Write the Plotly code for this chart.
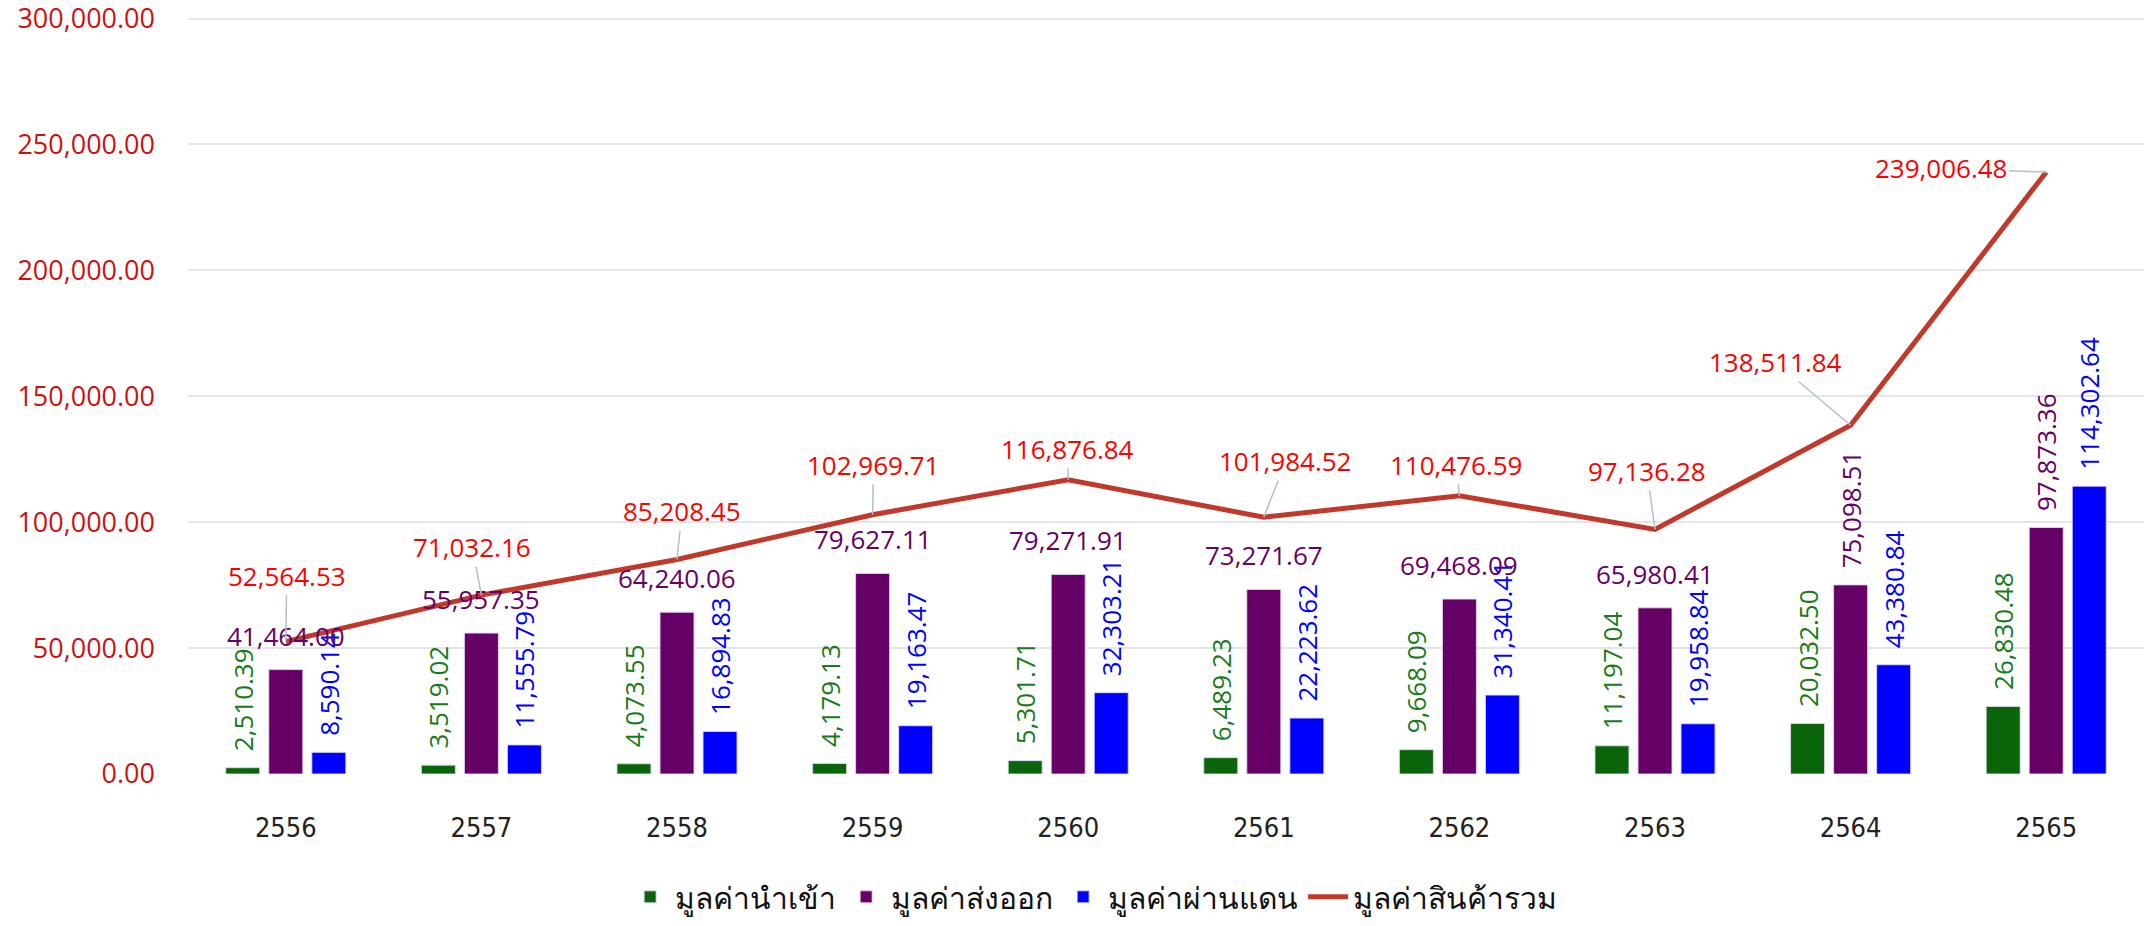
import plotly.graph_objects as go

# ---------------- data ----------------
years = ["2556", "2557", "2558", "2559", "2560", "2561", "2562", "2563", "2564", "2565"]
import_values = [2510.39, 3519.02, 4073.55, 4179.13, 5301.71, 6489.23, 9668.09, 11197.04, 20032.50, 26830.48]
export_values = [41464.00, 55957.35, 64240.06, 79627.11, 79271.91, 73271.67, 69468.09, 65980.41, 75098.51, 97873.36]
transit_values = [8590.14, 11555.79, 16894.83, 19163.47, 32303.21, 22223.62, 31340.41, 19958.84, 43380.84, 114302.64]
total_values = [52564.53, 71032.16, 85208.45, 102969.71, 116876.84, 101984.52, 110476.59, 97136.28, 138511.84, 239006.48]

series_names = ["มูลค่านำเข้า", "มูลค่าส่งออก", "มูลค่าผ่านแดน", "มูลค่าสินค้ารวม"]
y_tick_values = [0, 50000, 100000, 150000, 200000, 250000, 300000]

# ---------------- styles ----------------
C_IMPORT = "#0a650a"
C_EXPORT = "#660066"
C_TRANSIT = "#0000ff"
C_TOTAL = "#c0392b"
T_IMPORT = "#1b7a1b"
T_EXPORT = "#660066"
T_TRANSIT = "#0000ff"
T_TOTAL = "#ff0000"
LABEL_FONT = "Open Sans, Noto Sans, sans-serif"
NARROW_FONT = "Liberation Sans Narrow, Arial Narrow, DejaVu Sans Condensed, sans-serif"
LABEL_SIZE = 26
PAD = "\u00a0\u00a0"

# export labels: horizontal for most years, rotated for the last two
export_rotated = [False] * 8 + [True] * 2
# pixel offsets of the total labels from their points (ax, ay)
total_label_offsets = [(1, -66), (-9, -48), (5, -48), (1, -50), (-1, -31),
                       (22, -56), (-3, -31), (-8, -58), (-75, -63), (-105, -4)]


def fmt(v):
    return f"{v:,.2f}"


fig = go.Figure()

bar_line = dict(color="rgba(220,215,235,0.9)", width=1)

fig.add_trace(go.Bar(
    x=years, y=import_values, name=series_names[0],
    marker=dict(color=C_IMPORT, line=bar_line),
    text=[PAD + fmt(v) for v in import_values],
    textposition="outside", textangle=-90, constraintext="none", cliponaxis=False,
    textfont=dict(family=LABEL_FONT, size=LABEL_SIZE, color=T_IMPORT),
))
fig.add_trace(go.Bar(
    x=years, y=export_values, name=series_names[1],
    marker=dict(color=C_EXPORT, line=bar_line),
    text=[PAD + fmt(v) if r else "" for v, r in zip(export_values, export_rotated)],
    textposition="outside", textangle=-90, constraintext="none", cliponaxis=False,
    textfont=dict(family=LABEL_FONT, size=LABEL_SIZE, color=T_EXPORT),
))
fig.add_trace(go.Bar(
    x=years, y=transit_values, name=series_names[2],
    marker=dict(color=C_TRANSIT, line=bar_line),
    text=[PAD + fmt(v) for v in transit_values],
    textposition="outside", textangle=-90, constraintext="none", cliponaxis=False,
    textfont=dict(family=LABEL_FONT, size=LABEL_SIZE, color=T_TRANSIT),
))
fig.add_trace(go.Scatter(
    x=years, y=total_values, name=series_names[3], mode="lines",
    line=dict(color=C_TOTAL, width=5), cliponaxis=False,
))

annotations = []
# category axis: annotations are placed by category index
for i, (v, r) in enumerate(zip(export_values, export_rotated)):
    if not r:
        annotations.append(dict(
            x=i, y=v, xref="x", yref="y", text=fmt(v), showarrow=False,
            yanchor="bottom", yshift=14,
            font=dict(family=LABEL_FONT, size=LABEL_SIZE, color=T_EXPORT),
        ))
for i, (v, (ax, ay)) in enumerate(zip(total_values, total_label_offsets)):
    annotations.append(dict(
        x=i, y=v, xref="x", yref="y", text=fmt(v), showarrow=True,
        ax=ax, ay=ay, arrowhead=0, arrowwidth=1.5, arrowcolor="#b3bfcc", standoff=0,
        font=dict(family=LABEL_FONT, size=LABEL_SIZE, color=T_TOTAL),
    ))

fig.update_layout(
    width=2144, height=926,
    margin=dict(l=188, r=0, t=11, b=152, autoexpand=False),
    paper_bgcolor="white", plot_bgcolor="white",
    barmode="group", bargap=0.34, bargroupgap=0.21,
    annotations=annotations,
    showlegend=True,
    legend=dict(
        orientation="h", x=0.463, xanchor="center", y=-0.161, yanchor="middle",
        font=dict(family=NARROW_FONT, size=30, color="#111111"),
        itemwidth=40, traceorder="normal",
    ),
    xaxis=dict(
        type="category", categoryorder="array", categoryarray=years,
        range=[-0.5, len(years) - 0.5],
        showgrid=False, showline=False, zeroline=False,
        tickfont=dict(family=NARROW_FONT, size=27, color="#222222"),
        ticklabelstandoff=35,
    ),
    yaxis=dict(
        range=[0, 303000], tickvals=y_tick_values, tickformat=",.2f",
        showgrid=True, gridcolor="#e2e5ea", gridwidth=1.5,
        zeroline=False, showline=False, ticklabeloverflow="allow",
        tickfont=dict(family=LABEL_FONT, size=27, color="#cc1111"),
        ticklabelstandoff=32,
    ),
)

fig.write_html("out.html", config={"displayModeBar": False},
               post_script="document.body.style.margin='0';")
